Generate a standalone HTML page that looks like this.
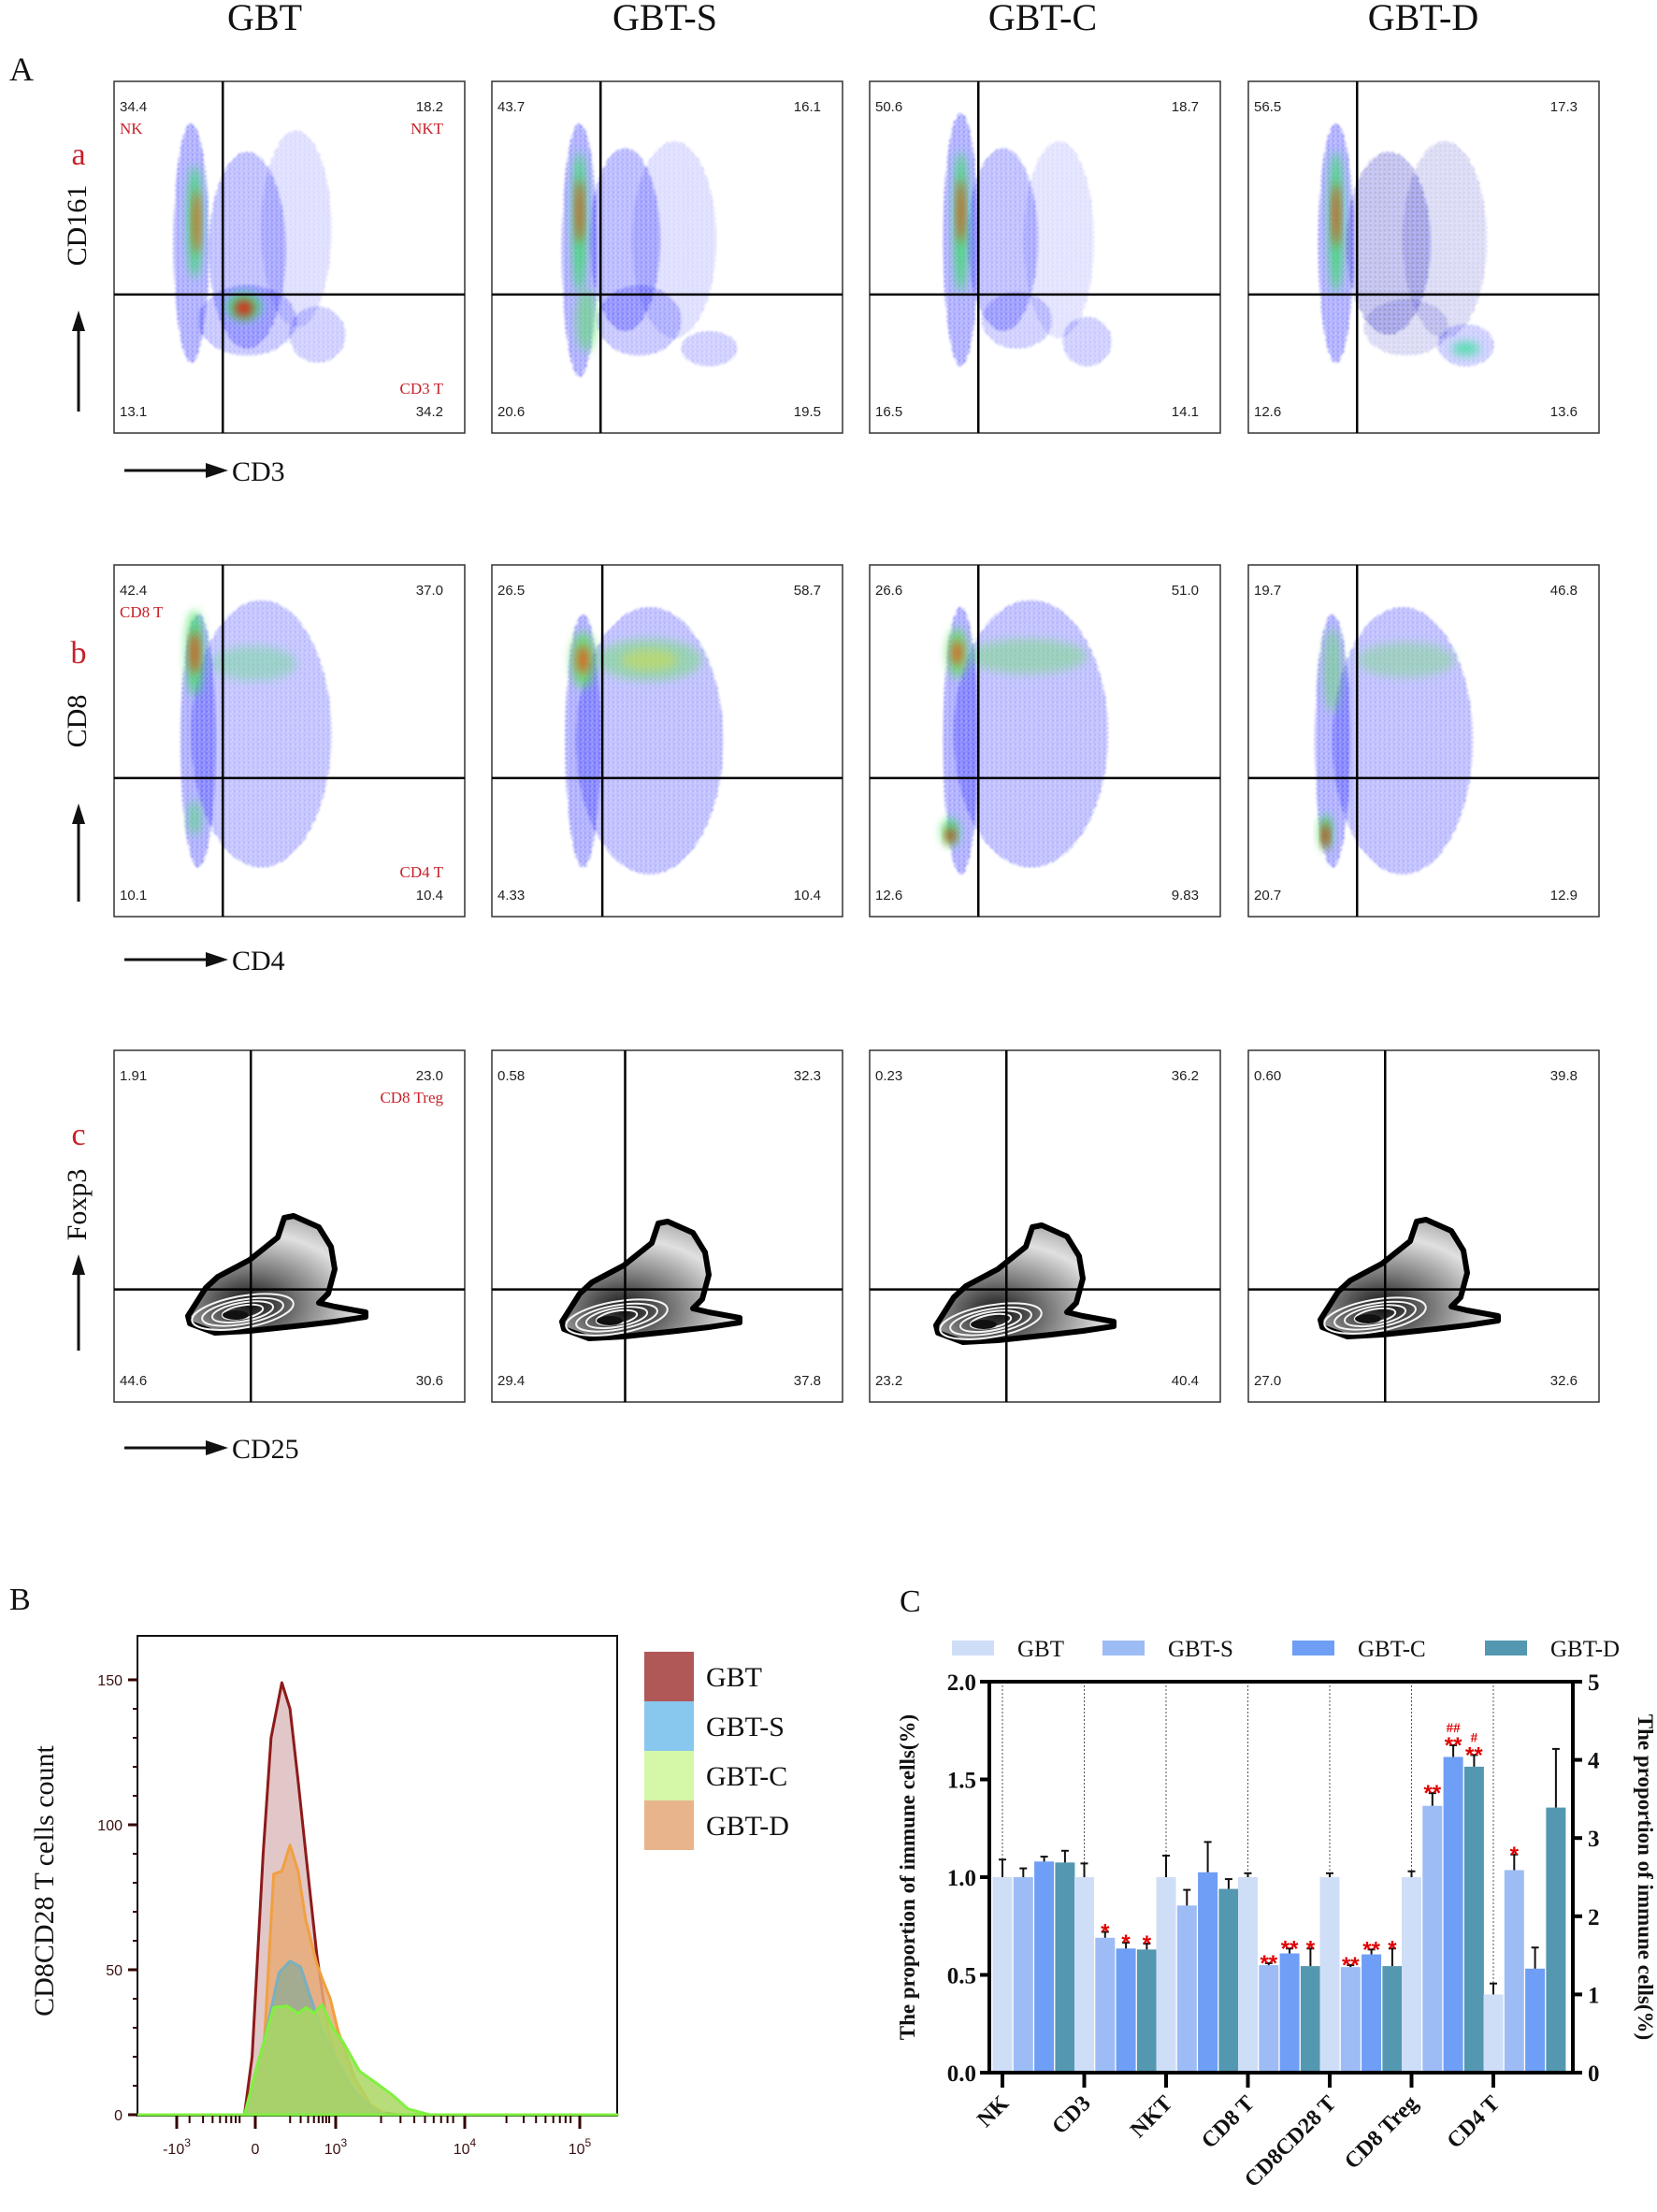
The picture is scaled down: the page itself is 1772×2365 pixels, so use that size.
<!DOCTYPE html>
<html><head><meta charset="utf-8">
<style>
html,body{margin:0;padding:0;background:#fff;}
body{width:1772px;height:2365px;overflow:hidden;position:relative;font-family:"Liberation Serif",serif;}
svg{position:absolute;left:0;top:0;}
</style></head>
<body>
<svg id="fig" width="1772" height="2365" viewBox="0 0 1772 2365" xmlns="http://www.w3.org/2000/svg">
<defs>
<filter id="blur3" x="-50%" y="-50%" width="200%" height="200%"><feGaussianBlur stdDeviation="3"/></filter>
<filter id="blur6" x="-50%" y="-50%" width="200%" height="200%"><feGaussianBlur stdDeviation="5"/></filter>
<filter id="soft" x="-20%" y="-20%" width="140%" height="140%"><feGaussianBlur stdDeviation="1.2"/></filter>
<radialGradient id="cgrad" cx="0.35" cy="0.75" r="0.8">
<stop offset="0" stop-color="#111"/><stop offset="0.35" stop-color="#777"/><stop offset="0.75" stop-color="#e0e0e0"/><stop offset="1" stop-color="#aaa"/>
</radialGradient>
<pattern id="dots" width="5" height="5" patternUnits="userSpaceOnUse"><rect x="0" y="0" width="2" height="2" fill="#1010ff"/><rect x="3" y="2.5" width="1.8" height="1.8" fill="#2020ff"/><rect x="1" y="4" width="1" height="1" fill="#3030ff"/></pattern>
<pattern id="dotsdk" width="5" height="5" patternUnits="userSpaceOnUse"><rect x="0" y="0" width="2" height="2" fill="#101060"/><rect x="3" y="2.5" width="1.8" height="1.8" fill="#2020ff"/></pattern>
</defs>
<g id="panelA"></g>
<g id="panelB"></g>
<g id="panelC"></g>
</svg>
<script>
// ---------- Panel B data (channel units 0..100 across plot, counts) ----------
const gbtX = [22.3,23.9,26.2,27.85,30.1,31.8,33.5,35.1,37.4,39.6,41.8,45.2,49.7,54.1];
const gbtY = [0,20,90,130,149,140,115,90,55,30,15,5,1,0];
const gbtdX = [22.3,26.2,28.4,30.1,31.8,33.5,35.1,37.4,38.5,40.2,41.8,45.2,48.5,51.9];
const gbtdY = [0,18,83,84,93,84,67,52,47,40,29,13,3.5,0];
const gbtsX = [22.8,27.3,29.5,31.8,34.0,36.2,38.5,41.8,45.2,49.7,51.9];
const gbtsY = [0,32,49,53,51,40,29,18,8,1,0];
const gbtcX = [22.3,25.1,28.4,31.2,33.5,35.1,36.8,38.5,40.7,42.9,46.3,49.7,53.0,56.4,60.9];
const gbtcY = [0,18,37,37.5,35,37,35,38,30,25,15,11,7,2,0];
const histTicks = [0,50,100,150];

// ---------- Panel C data ----------
const categories = ["NK","CD3","NKT","CD8 T","CD8CD28 T","CD8 Treg","CD4 T"];
const seriesNames = ["GBT","GBT-S","GBT-C","GBT-D"];
const valGBT  = [1.0,1.0,1.0,1.0,1.0,1.0,1.0];
const valGBTS = [1.0,0.69,0.855,0.55,0.54,1.365,2.59];
const valGBTC = [1.08,0.635,1.025,0.61,0.605,1.615,1.33];
const valGBTD = [1.075,0.63,0.94,0.545,0.545,1.565,3.39];
const errGBT  = [0.09,0.07,0.11,0.02,0.02,0.03,0.14];
const errGBTS = [0.045,0.03,0.08,0.01,0.01,0.065,0.2];
const errGBTC = [0.025,0.03,0.155,0.025,0.025,0.06,0.27];
const errGBTD = [0.06,0.03,0.05,0.09,0.09,0.06,0.75];
const rightAxisGroups = [6];
const leftTicks = ["0.0","0.5","1.0","1.5","2.0"];
const rightTicks = ["0","1","2","3","4","5"];
const sigMarks = [[1,1,"*"],[1,2,"*"],[1,3,"*"],[3,1,"**"],[3,2,"**"],[3,3,"*"],[4,1,"**"],[4,2,"**"],[4,3,"*"],[5,1,"**"],[5,2,"**\n##"],[5,3,"**\n#"],[6,1,"*"]];

const NS="http://www.w3.org/2000/svg";
function mk(tag,attrs,parent,text){const e=document.createElementNS(NS,tag);for(const k in attrs)e.setAttribute(k,attrs[k]);if(text!==undefined)e.textContent=text;if(parent)parent.appendChild(e);return e;}

// ================= PANEL A =================
const A=document.getElementById('panelA');
const colX=[122,526,930,1335];
const rowY=[87,604,1123];
const BW=375,BH=376;
const titles=["GBT","GBT-S","GBT-C","GBT-D"];
const titleCX=[283,711,1115,1522];
titles.forEach((t,i)=>{
  const e=mk('text',{x:titleCX[i],y:32,'font-size':40,'text-anchor':'middle','font-family':'Liberation Serif, serif',fill:'#111'},A,t);
  
  
});
let la=mk('text',{x:10,y:86,'font-size':36,fill:'#111'},A,'A');



const rowLetters=["a","b","c"];
const letterY=[176,709,1224];
const yLab=["CD161","CD8","Foxp3"];
const yLabC=[241,771,1288];
const arrowY=[[440,332],[964,859],[1444,1341]];
const xLab=["CD3","CD4","CD25"];
const xLabY=[503,1026,1548];
const vfrac=[[0.31,0.31,0.31,0.31],[0.31,0.315,0.31,0.31],[0.39,0.38,0.39,0.39]];
const hfrac=[0.606,0.606,0.68];
const nums=[
 [["34.4","18.2","13.1","34.2"],["43.7","16.1","20.6","19.5"],["50.6","18.7","16.5","14.1"],["56.5","17.3","12.6","13.6"]],
 [["42.4","37.0","10.1","10.4"],["26.5","58.7","4.33","10.4"],["26.6","51.0","12.6","9.83"],["19.7","46.8","20.7","12.9"]],
 [["1.91","23.0","44.6","30.6"],["0.58","32.3","29.4","37.8"],["0.23","36.2","23.2","40.4"],["0.60","39.8","27.0","32.6"]]
];
// clouds (dot texture): [fx,fy,rx,ry,opacity,dark]
const clouds1=[
 [[0.22,0.46,0.05,0.34,1,0],[0.38,0.48,0.11,0.28,0.8,0],[0.52,0.42,0.1,0.28,0.4,0],[0.38,0.68,0.14,0.1,0.7,0],[0.58,0.72,0.08,0.08,0.6,0]],
 [[0.25,0.48,0.05,0.36,1,0],[0.38,0.45,0.1,0.26,0.85,0],[0.52,0.45,0.12,0.28,0.4,0],[0.42,0.68,0.12,0.1,0.7,0],[0.62,0.76,0.08,0.05,0.6,0]],
 [[0.26,0.45,0.05,0.36,1,0],[0.38,0.45,0.1,0.26,0.8,0],[0.54,0.45,0.1,0.28,0.35,0],[0.42,0.68,0.1,0.08,0.6,0],[0.62,0.74,0.07,0.07,0.6,0]],
 [[0.25,0.46,0.05,0.34,1,0],[0.4,0.46,0.12,0.26,0.85,1],[0.56,0.45,0.12,0.28,0.5,1],[0.45,0.7,0.12,0.08,0.5,1],[0.62,0.75,0.08,0.06,0.6,0]]
];
const clouds2=[
 [[0.24,0.5,0.05,0.36,1,0],[0.42,0.48,0.2,0.38,0.75,0]],
 [[0.26,0.5,0.05,0.36,1,0],[0.45,0.5,0.21,0.38,0.8,0]],
 [[0.26,0.5,0.05,0.38,1,0],[0.46,0.48,0.22,0.38,0.8,0]],
 [[0.24,0.5,0.05,0.36,1,0],[0.44,0.5,0.2,0.38,0.8,0]]
];
// hot spots: [fx,fy,rx,ry,color,opacity]
const hot1=[
 [[0.23,0.40,0.02,0.16,'#30e060',0.8],[0.235,0.40,0.01,0.09,'#ff5000',0.85],[0.37,0.64,0.05,0.04,'#40e080',0.9],[0.37,0.645,0.028,0.025,'#e02010',0.9]],
 [[0.25,0.40,0.02,0.2,'#30e060',0.8],[0.25,0.37,0.01,0.09,'#ff3000',0.85],[0.27,0.68,0.03,0.09,'#60e070',0.6]],
 [[0.26,0.40,0.02,0.2,'#30e060',0.8],[0.26,0.37,0.01,0.09,'#ff3000',0.85]],
 [[0.25,0.40,0.02,0.2,'#30e060',0.8],[0.25,0.38,0.01,0.09,'#ff3000',0.85],[0.62,0.76,0.04,0.02,'#40e0a0',0.8]]
];
const hot2=[
 [[0.23,0.25,0.025,0.12,'#40e060',0.8],[0.23,0.25,0.012,0.06,'#ff3000',0.85],[0.23,0.72,0.018,0.05,'#50e070',0.6],[0.4,0.28,0.12,0.05,'#60e080',0.4]],
 [[0.26,0.27,0.035,0.08,'#60e060',0.8],[0.26,0.27,0.017,0.04,'#ff4000',0.75],[0.45,0.27,0.15,0.06,'#70e070',0.5],[0.45,0.27,0.08,0.03,'#e0e020',0.4]],
 [[0.25,0.25,0.03,0.07,'#60e060',0.8],[0.25,0.25,0.015,0.035,'#ff4000',0.75],[0.45,0.26,0.17,0.05,'#70e070',0.45],[0.23,0.76,0.025,0.04,'#40e060',0.8],[0.23,0.77,0.013,0.02,'#e02000',0.9]],
 [[0.24,0.3,0.025,0.12,'#60e060',0.5],[0.45,0.27,0.14,0.05,'#70e070',0.4],[0.22,0.76,0.018,0.05,'#40e060',0.9],[0.22,0.77,0.01,0.035,'#e02000',0.95]]
];
const contourOuter=[[79,284],[98,254],[111,242],[145,224],[175,200],[182,179],[192,177],[219,189],[232,210],[236,234],[229,260],[219,270],[236,274],[269,280],[269,285],[236,290],[202,294],[145,300],[108,302],[81,292]];

for(let r=0;r<3;r++){
  let lt=mk('text',{x:84,y:letterY[r],'font-size':34,fill:'#c8202a','text-anchor':'middle'},A,rowLetters[r]);
  
  
  let yl=mk('text',{x:0,y:0,'font-size':30,fill:'#111','text-anchor':'middle',transform:`translate(92,${yLabC[r]}) rotate(-90)`},A,yLab[r]);
  
  
  mk('line',{x1:84,y1:arrowY[r][0],x2:84,y2:arrowY[r][1]+18,stroke:'#111','stroke-width':3},A);
  mk('polygon',{points:`84,${arrowY[r][1]} 77,${arrowY[r][1]+22} 91,${arrowY[r][1]+22}`,fill:'#111'},A);
  mk('line',{x1:133,y1:xLabY[r],x2:222,y2:xLabY[r],stroke:'#111','stroke-width':3},A);
  mk('polygon',{points:`244,${xLabY[r]} 220,${xLabY[r]-8} 220,${xLabY[r]+8}`,fill:'#111'},A);
  let xl=mk('text',{x:248,y:xLabY[r]+11,'font-size':30,fill:'#111'},A,xLab[r]);
  
  
  for(let c=0;c<4;c++){
    const x0=colX[c],y0=rowY[r];
    const g=mk('g',{},A);
    
    
    mk('rect',{x:x0,y:y0,width:BW,height:BH,fill:'#fff'},g);
    if(r<2){
      const cl=(r===0?clouds1:clouds2)[c];
      cl.forEach(b=>{mk('ellipse',{cx:x0+b[0]*BW,cy:y0+b[1]*BH,rx:b[2]*BW,ry:b[3]*BH,fill:b[5]?'url(#dotsdk)':'url(#dots)',opacity:b[4],filter:'url(#soft)'},g);});
      const hl=(r===0?hot1:hot2)[c];
      hl.forEach(b=>{mk('ellipse',{cx:x0+b[0]*BW,cy:y0+b[1]*BH,rx:b[2]*BW,ry:b[3]*BH,fill:b[4],opacity:b[5],filter:'url(#blur6)'},g);});
    } else {
      const dx=[0,-4,-8,-2][c], dy=[0,6,10,4][c];
      const pts=contourOuter.map(p=>(x0+p[0]+dx)+','+(y0+p[1]+dy)).join(' ');
      mk('polygon',{points:pts,fill:'url(#cgrad)',stroke:'#000','stroke-width':6,'stroke-linejoin':'round'},g);
      const cx=x0+130+dx, cy=y0+283+dy;
      [[55,17],[44,13],[33,10],[22,7]].forEach(e=>{mk('ellipse',{cx:cx+8,cy:cy-2,rx:e[0],ry:e[1],fill:'none',stroke:'#f4f4f4','stroke-width':2,transform:`rotate(-10 ${cx} ${cy})`},g);});
      mk('ellipse',{cx:cx,cy:cy,rx:14,ry:5,fill:'#111'},g);
    }
    mk('rect',{x:x0,y:y0,width:BW,height:BH,fill:'none',stroke:'#333','stroke-width':1.5},g);
    const vx=x0+vfrac[r][c]*BW, hy=y0+hfrac[r]*BH;
    mk('line',{x1:vx,y1:y0,x2:vx,y2:y0+BH,stroke:'#000','stroke-width':2.5},g);
    mk('line',{x1:x0,y1:hy,x2:x0+BW,y2:hy,stroke:'#000','stroke-width':2.5},g);
    const n=nums[r][c];
    const fs={'font-size':15,'font-family':'Liberation Sans, sans-serif',fill:'#222'};
    mk('text',Object.assign({x:x0+6,y:y0+32},fs),g,n[0]);
    mk('text',Object.assign({x:x0+BW-23,y:y0+32,'text-anchor':'end'},fs),g,n[1]);
    mk('text',Object.assign({x:x0+6,y:y0+BH-18},fs),g,n[2]);
    mk('text',Object.assign({x:x0+BW-23,y:y0+BH-18,'text-anchor':'end'},fs),g,n[3]);
    if(c===0){
      const rs={'font-size':17,fill:'#c8202a'};
      if(r===0){mk('text',Object.assign({x:x0+6,y:y0+56},rs),g,'NK');mk('text',Object.assign({x:x0+BW-23,y:y0+56,'text-anchor':'end'},rs),g,'NKT');mk('text',Object.assign({x:x0+BW-23,y:y0+BH-42,'text-anchor':'end'},rs),g,'CD3 T');}
      if(r===1){mk('text',Object.assign({x:x0+6,y:y0+56},rs),g,'CD8 T');mk('text',Object.assign({x:x0+BW-23,y:y0+BH-42,'text-anchor':'end'},rs),g,'CD4 T');}
      if(r===2){mk('text',Object.assign({x:x0+BW-23,y:y0+56,'text-anchor':'end'},rs),g,'CD8 Treg');}
    }
  }
}

// ================= PANEL B =================
const B=document.getElementById('panelB');
const bx0=147,bx1=660,by0=1749,by1=2262;
const hx=ch=>bx0+ch/100*(bx1-bx0);
const hy=v=>2261-v*3.1;
let lb=mk('text',{x:10,y:1721,'font-size':34,fill:'#111'},B,'B');


mk('rect',{x:bx0,y:by0,width:bx1-bx0,height:by1-by0,fill:'#fff',stroke:'#111','stroke-width':2},B);
function area(xs,ys,fill,stroke,name){
  let d=`M${hx(0)},${hy(0)}`;
  xs.forEach((x,i)=>{d+=` L${hx(x)},${hy(ys[i])}`;});
  d+=` L${hx(100)},${hy(0)} Z`;
  const p=mk('path',{d:d,fill:fill,stroke:stroke,'stroke-width':3,'stroke-linejoin':'round'},B);
  
  
}
area(gbtX,gbtY,'rgba(190,130,135,0.45)','#8e1a1a','histogram-gbt');
area(gbtdX,gbtdY,'rgba(232,170,120,0.85)','#f0a040','histogram-gbt-d');
area(gbtsX,gbtsY,'rgba(140,170,150,0.75)','#7ab0c0','histogram-gbt-s');
area(gbtcX,gbtcY,'rgba(170,215,100,0.85)','#80f040','histogram-gbt-c');
histTicks.forEach(t=>{
  mk('line',{x1:bx0-10,y1:hy(t),x2:bx0,y2:hy(t),stroke:'#300','stroke-width':3},B);
  const e=mk('text',{x:bx0-16,y:hy(t)+6,'font-size':16,'font-family':'Liberation Sans, sans-serif','text-anchor':'end',fill:'#3a1010'},B,String(t));
  
  
});
for(let v=10;v<160;v+=10){if(v%50)mk('line',{x1:bx0-5,y1:hy(v),x2:bx0,y2:hy(v),stroke:'#300','stroke-width':2},B);}
const xtk=[[189,'-10','3'],[273,'0',''],[359,'10','3'],[497,'10','4'],[620,'10','5']];
xtk.forEach(t=>{
  mk('line',{x1:t[0],y1:by1,x2:t[0],y2:by1+14,stroke:'#300','stroke-width':3},B);
  const e=mk('text',{x:t[0],y:2303,'font-size':16,'font-family':'Liberation Sans, sans-serif','text-anchor':'middle',fill:'#3a1010'},B,t[1]);
  if(t[2]){mk('tspan',{dy:-8,'font-size':12},e,t[2]);}
  
  
});
[[178,260],[291,355],[372,490],[510,615]].forEach(rg=>{for(let i=0;i<8;i++){const x=rg[0]+(rg[1]-rg[0])*Math.log10(2+i)/Math.log10(10);mk('line',{x1:x,y1:by1,x2:x,y2:by1+8,stroke:'#300','stroke-width':2},B);}});
let bt=mk('text',{x:0,y:0,'font-size':30,fill:'#111','text-anchor':'middle',transform:'translate(57,2011) rotate(-90)'},B,'CD8CD28 T cells count');


const legCols=['#b05858','#88c8ee','#d4f8a8','#e8b48c'];
seriesNames.forEach((s,i)=>{
  const y=1766+i*53;
  const r=mk('rect',{x:689,y:y,width:53,height:53,fill:legCols[i]},B);
  
  
  const t=mk('text',{x:755,y:y+37,'font-size':30,fill:'#111'},B,s);
  
  
});

// ================= PANEL C =================
const C=document.getElementById('panelC');
const cx0=1058,cx1=1682,cy0=1798,cy1=2216;
const yL=v=>cy1-v/2*(cy1-cy0);
const yR=v=>cy1-v/5*(cy1-cy0);
const gx=g=>1072+g*87.5;
const barW=21,barStep=22.3;
const colors=['#cfdef7','#9dbcf5','#6e9ef5','#5497b0'];
const vals=[valGBT,valGBTS,valGBTC,valGBTD];
const errs=[errGBT,errGBTS,errGBTC,errGBTD];
let lc=mk('text',{x:962,y:1723,'font-size':34,fill:'#111'},C,'C');


const legX=[1018,1179,1382,1588];
seriesNames.forEach((s,i)=>{
  const r=mk('rect',{x:legX[i],y:1754,width:45,height:16,fill:colors[i]},C);
  
  
  const t=mk('text',{x:legX[i]+70,y:1771,'font-size':25,fill:'#111'},C,s);
  
  
});
categories.forEach((c,g)=>{
  const useR=rightAxisGroups.includes(g);
  const top=(useR?yR:yL)(vals[0][g]+errs[0][g]);
  mk('line',{x1:gx(g),y1:cy0,x2:gx(g),y2:top,stroke:'#555','stroke-width':1,'stroke-dasharray':'2,2'},C);
});
categories.forEach((c,g)=>{
  const useR=rightAxisGroups.includes(g);
  const ys=useR?yR:yL;
  for(let i=0;i<4;i++){
    const x=gx(g)+i*barStep;
    const v=vals[i][g], e=errs[i][g];
    const b=mk('rect',{x:x-barW/2,y:ys(v),width:barW,height:cy1-ys(v),fill:colors[i]},C);
    
    
    mk('line',{x1:x,y1:ys(v),x2:x,y2:ys(v+e),stroke:'#111','stroke-width':2},C);
    mk('line',{x1:x-4,y1:ys(v+e),x2:x+4,y2:ys(v+e),stroke:'#111','stroke-width':2},C);
  }
});
sigMarks.forEach(m=>{
  const g=m[0],i=m[1];
  const ys=rightAxisGroups.includes(g)?yR:yL;
  const x=gx(g)+i*barStep;
  const top=ys(vals[i][g]+errs[i][g]);
  const parts=m[2].split('\n');
  const t=mk('text',{x:x,y:top+8,'font-size':24,'font-weight':'bold','text-anchor':'middle',fill:'#e00000','font-family':'Liberation Sans, sans-serif'},C,parts[0]);
  
  
  if(parts[1]){const h=mk('text',{x:x,y:top-14,'font-size':15,'font-weight':'bold','text-anchor':'middle',fill:'#e00000'},C,parts[1]);
    
    }
});
mk('line',{x1:cx0,y1:cy0,x2:cx1,y2:cy0,stroke:'#000','stroke-width':4},C);
mk('line',{x1:cx0,y1:cy1,x2:cx1,y2:cy1,stroke:'#000','stroke-width':4},C);
mk('line',{x1:cx0,y1:cy0-2,x2:cx0,y2:cy1+2,stroke:'#000','stroke-width':4},C);
mk('line',{x1:cx1,y1:cy0-2,x2:cx1,y2:cy1+2,stroke:'#000','stroke-width':4},C);
leftTicks.forEach((t,i)=>{
  const y=yL(parseFloat(t));
  mk('line',{x1:cx0-10,y1:y,x2:cx0,y2:y,stroke:'#000','stroke-width':4},C);
  const e=mk('text',{x:cx0-14,y:y+9,'font-size':25,'font-weight':'bold','text-anchor':'end',fill:'#111'},C,t);
  
  
});
rightTicks.forEach((t,i)=>{
  const y=yR(parseFloat(t));
  mk('line',{x1:cx1,y1:y,x2:cx1+10,y2:y,stroke:'#000','stroke-width':4},C);
  const e=mk('text',{x:cx1+16,y:y+9,'font-size':25,'font-weight':'bold',fill:'#111'},C,t);
  
  
});
categories.forEach((c,g)=>{
  mk('line',{x1:gx(g),y1:cy1,x2:gx(g),y2:cy1+16,stroke:'#000','stroke-width':4},C);
  const e=mk('text',{x:0,y:0,'font-size':24,'font-weight':'bold','text-anchor':'end',fill:'#111',transform:`translate(${gx(g)+8},${cy1+34}) rotate(-45)`},C,c);
  
  
});
let ylt=mk('text',{x:0,y:0,'font-size':23,'font-weight':'bold','text-anchor':'middle',fill:'#111',transform:`translate(978,${(cy0+cy1)/2}) rotate(-90)`},C,'The proportion of immune cells(%)');


let yrt=mk('text',{x:0,y:0,'font-size':23,'font-weight':'bold','text-anchor':'middle',fill:'#111',transform:`translate(1752,${(cy0+cy1)/2}) rotate(90)`},C,'The proportion of immune cells(%)');


</script>
</body></html>
